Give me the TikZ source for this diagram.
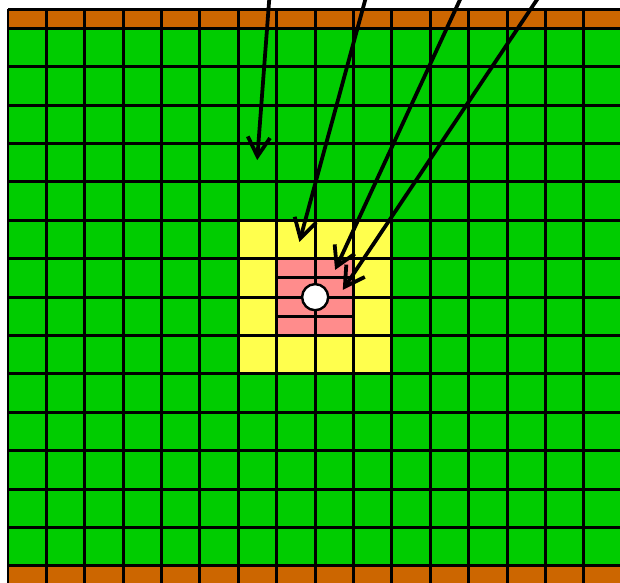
\documentclass[tikz,border=0pt]{standalone}
\usetikzlibrary{arrows.meta}

\definecolor{fieldgreen}{HTML}{00CC00}
\definecolor{wallorange}{HTML}{CC6600}
\definecolor{nearyellow}{HTML}{FFFF4D}
\definecolor{corepink}{HTML}{FF8C8C}

\begin{document}
\begin{tikzpicture}[
    cell/.style={fill=#1, draw=none},
    gridline/.style={line width=2.2pt, draw=black},
    ray/.style={-{Straight Barb[length=5mm,width=5.8mm]}, line width=2.8pt, line cap=round},
]
\useasboundingbox (-0.208,-0.443) rectangle (15.94,14.74);
\clip (-0.208,-0.443) rectangle (15.94,14.74);

% regions
\fill[cell=wallorange] (0,14) rectangle (16,14.5);
\fill[cell=wallorange] (0,-0.5) rectangle (16,0);
\fill[cell=fieldgreen] (0,0) rectangle (16,14);
\fill[cell=nearyellow] (6,5) rectangle (10,9);
\fill[cell=corepink] (7,6) rectangle (9,8);

% grid
\foreach \x in {0,...,16}
    \draw[gridline] (\x,-0.5) -- (\x,14.5);
\foreach \y in {0,...,14,14.5}
    \draw[gridline] (0,\y) -- (16,\y);
\foreach \y in {6.5,7.5}
    \draw[gridline] (7,\y) -- (9,\y);

\node[circle, draw, fill=white, line width=1.8pt, inner sep=0pt, minimum size=0.68cm] (probe) at (8,7) {};

% incoming rays
\coordinate (src1) at (6.86,15.5);
\coordinate (src2) at (9.51,15.5);
\coordinate (src3) at (12.12,15.5);
\coordinate (src4) at (14.28,15.5);
\coordinate (hit1) at (6.49,10.57);
\coordinate (hit2) at (7.59,8.44);
\coordinate (hit3) at (8.52,7.71);
\coordinate (hit4) at (8.72,7.19);

\foreach \i in {1,...,4}
    \draw[ray] (src\i) -- (hit\i);
\end{tikzpicture}
\end{document}
